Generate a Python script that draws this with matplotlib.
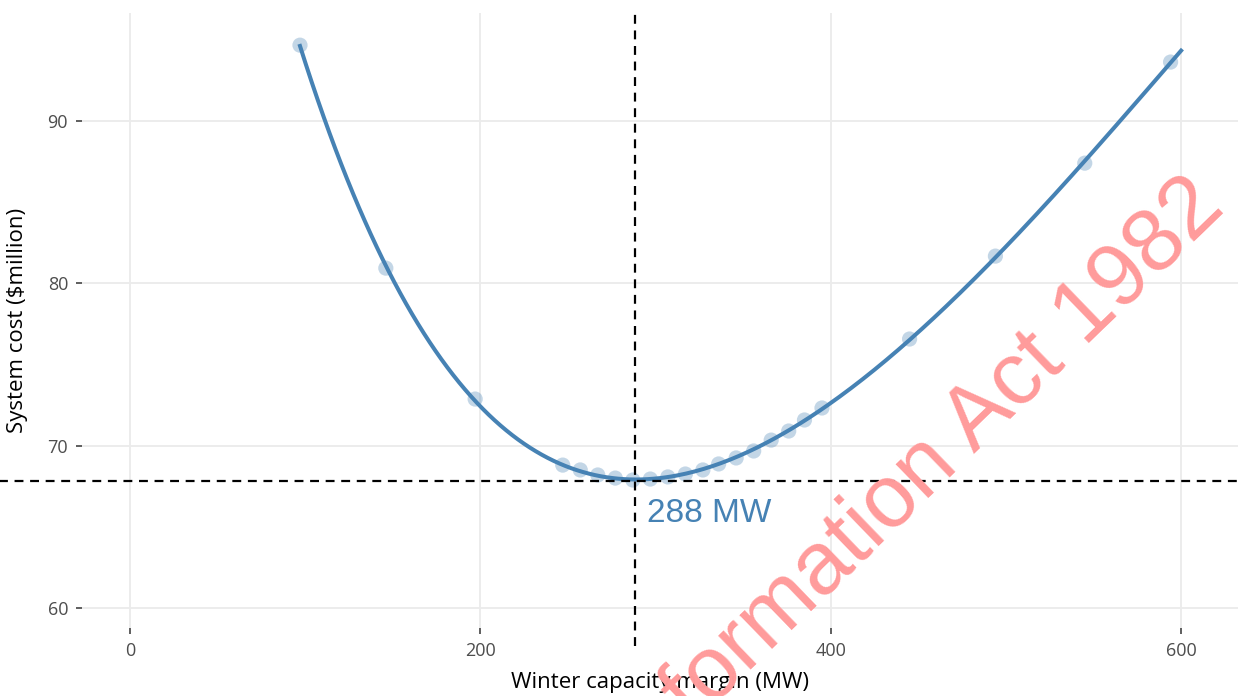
import numpy as np
import matplotlib
matplotlib.use("Agg")
import matplotlib.pyplot as plt

# values
margin_mw = [97, 146, 197, 247, 257, 267, 277, 287, 297, 307, 317, 327, 336,
             346, 356, 366, 376, 385, 395, 445, 494, 545, 594]
cost_m = [94.68, 80.94, 72.87, 68.80, 68.50, 68.19, 68.00, 67.88, 67.94, 68.07,
          68.25, 68.50, 68.87, 69.24, 69.67, 70.34, 70.90, 71.58, 72.32, 76.57,
          81.68, 87.41, 93.64]
best_margin = 288
best_cost = 67.8
x_ticks = [0, 200, 400, 600]
y_ticks = [60, 70, 80, 90]

blue = "#4682B4"
plt.rcParams['font.family'] = ['Open Sans', 'DejaVu Sans']

fig = plt.figure(figsize=(12.41, 6.96), dpi=100)
ax = fig.add_axes([0.066, 0.0977, 0.9316, 0.8833])

# smooth fit through the points (like geom_smooth)
xm = np.array(margin_mw, dtype=float)
xc = (xm - 350) / 250
coef = np.polyfit(xc, cost_m, 5)
xs = np.linspace(min(margin_mw), 600, 300)
ax.plot(xs, np.polyval(coef, (xs - 350) / 250), color=blue, lw=2.9, zorder=4)
ax.scatter(margin_mw, cost_m, s=120, color=blue, alpha=0.32, edgecolors='none', zorder=3)

ax.axvline(best_margin, ymin=-0.03, ymax=1.0, color='black', lw=1.6,
           linestyle=(0, (4, 3)), clip_on=False, zorder=5)
ax.axhline(best_cost, xmin=-0.08, xmax=1.01, color='black', lw=1.6,
           linestyle=(0, (4, 3)), clip_on=False, zorder=5)
ax.text(best_margin + 7, best_cost - 2.0, "%d MW" % best_margin, color=blue,
        fontsize=24, family=['Liberation Sans', 'DejaVu Sans'], va='center', ha='left')

ax.set_xlim(-27.5, 632.5)
ax.set_ylim(58.76, 96.65)
ax.set_xticks(x_ticks)
ax.set_yticks(y_ticks)
ax.grid(True, color='#EBEBEB', lw=1.3)
ax.set_axisbelow(True)
for s in ax.spines.values():
    s.set_visible(False)
ax.tick_params(length=4, width=1.1, color='#333333', labelcolor='#4D4D4D',
               labelsize=13, pad=6)
ax.set_xlabel("Winter capacity margin (MW)", fontsize=16, labelpad=9)
ax.set_ylabel("System cost ($million)", fontsize=16, labelpad=14)

# watermark
fig.text(0.989, 0.698, "Official Information Act 1982", fontsize=64,
         family=['Liberation Sans', 'DejaVu Sans'], color='#FF9B9B',
         rotation=44, rotation_mode='anchor', ha='right', va='baseline', zorder=10)

fig.savefig("out.png", dpi=100)
